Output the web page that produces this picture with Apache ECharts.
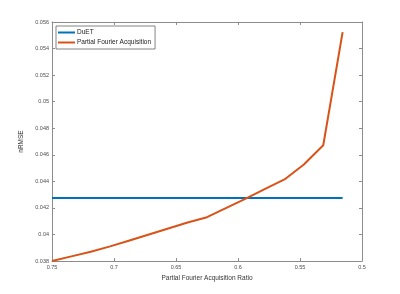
<!DOCTYPE html>
<html>
<head>
<meta charset="utf-8">
<script src="https://cdn.jsdelivr.net/npm/echarts@6/dist/echarts.min.js"></script>
<style>
  html, body { margin: 0; padding: 0; background: #fff; }
  #chart { width: 400px; height: 294px; }
</style>
</head>
<body>
<div id="chart"></div>
<script>
// acquisition ratio (x) and nRMSE values
const ratios = [0.75, 0.734375, 0.71875, 0.703125, 0.6875, 0.671875, 0.65625, 0.640625,
                0.625, 0.609375, 0.59375, 0.578125, 0.5625, 0.546875, 0.53125, 0.515625];
const pfaValues = [0.0380, 0.03835, 0.0387, 0.0391, 0.03955, 0.0400, 0.04045, 0.0409,
                   0.0413, 0.0420, 0.0427, 0.04343, 0.04414, 0.04527, 0.04672, 0.05524];
const duetRatios = [0.75, 0.515625];
const duetValues = [0.04275, 0.04275];
const seriesNames = ['DuET', 'Partial Fourier Acquisition'];

const font = 'Liberation Sans';
const axisGray = '#8c8c8c';
const labelGray = '#4d4d4d';

function pairs(xs, ys) {
    return xs.map((x, i) => [x, ys[i]]);
}
function fmt(v) {
    return String(parseFloat(v.toFixed(4)));
}

const chart = echarts.init(document.getElementById('chart'));

const baseX = {
    type: 'value',
    min: 0.5,
    max: 0.75,
    interval: 0.05,
    inverse: true,
    axisLine: { show: true, onZero: false, lineStyle: { color: axisGray, width: 1 } },
    axisTick: { show: true, inside: true, length: 3, lineStyle: { color: axisGray } },
    splitLine: { show: false }
};
const baseY = {
    type: 'value',
    min: 0.038,
    max: 0.056,
    interval: 0.002,
    axisLine: { show: true, onZero: false, lineStyle: { color: axisGray, width: 1 } },
    axisTick: { show: true, inside: true, length: 3, lineStyle: { color: axisGray } },
    splitLine: { show: false }
};

chart.setOption({
    animation: false,
    backgroundColor: '#fff',
    grid: { left: 52, right: 38, top: 22, bottom: 33 },
    legend: {
        data: seriesNames,
        orient: 'vertical',
        left: 56,
        top: 26,
        itemWidth: 17,
        itemHeight: 2,
        itemGap: 3,
        icon: 'rect',
        padding: [3, 4, 3, 2],
        borderColor: '#666',
        borderWidth: 0.8,
        backgroundColor: '#fff',
        textStyle: { fontFamily: font, fontSize: 6.5, color: '#222', padding: [0, 0, 0, -3] }
    },
    xAxis: [
        Object.assign({}, baseX, {
            position: 'bottom',
            name: 'Partial Fourier Acquisition Ratio',
            nameLocation: 'middle',
            nameGap: 12,
            nameTextStyle: { fontFamily: font, fontSize: 6.5, color: '#333' },
            axisLabel: { fontFamily: font, fontSize: 5.5, color: labelGray, margin: 3, formatter: fmt }
        }),
        Object.assign({}, baseX, {
            position: 'top',
            axisLabel: { show: false }
        })
    ],
    yAxis: [
        Object.assign({}, baseY, {
            position: 'left',
            name: 'nRMSE',
            nameLocation: 'middle',
            nameGap: 20,
            nameTextStyle: { fontFamily: font, fontSize: 6.5, color: '#333' },
            axisLabel: { fontFamily: font, fontSize: 5.5, color: labelGray, margin: 3, formatter: fmt }
        }),
        Object.assign({}, baseY, {
            position: 'right',
            axisLabel: { show: false }
        })
    ],
    series: [
        {
            name: seriesNames[0],
            type: 'line',
            data: pairs(duetRatios, duetValues),
            showSymbol: false,
            color: '#0072BD',
            lineStyle: { width: 2, color: '#0072BD' }
        },
        {
            name: seriesNames[1],
            type: 'line',
            data: pairs(ratios, pfaValues),
            showSymbol: false,
            color: '#D95319',
            lineStyle: { width: 2, color: '#D95319' }
        }
    ]
});
</script>
</body>
</html>
